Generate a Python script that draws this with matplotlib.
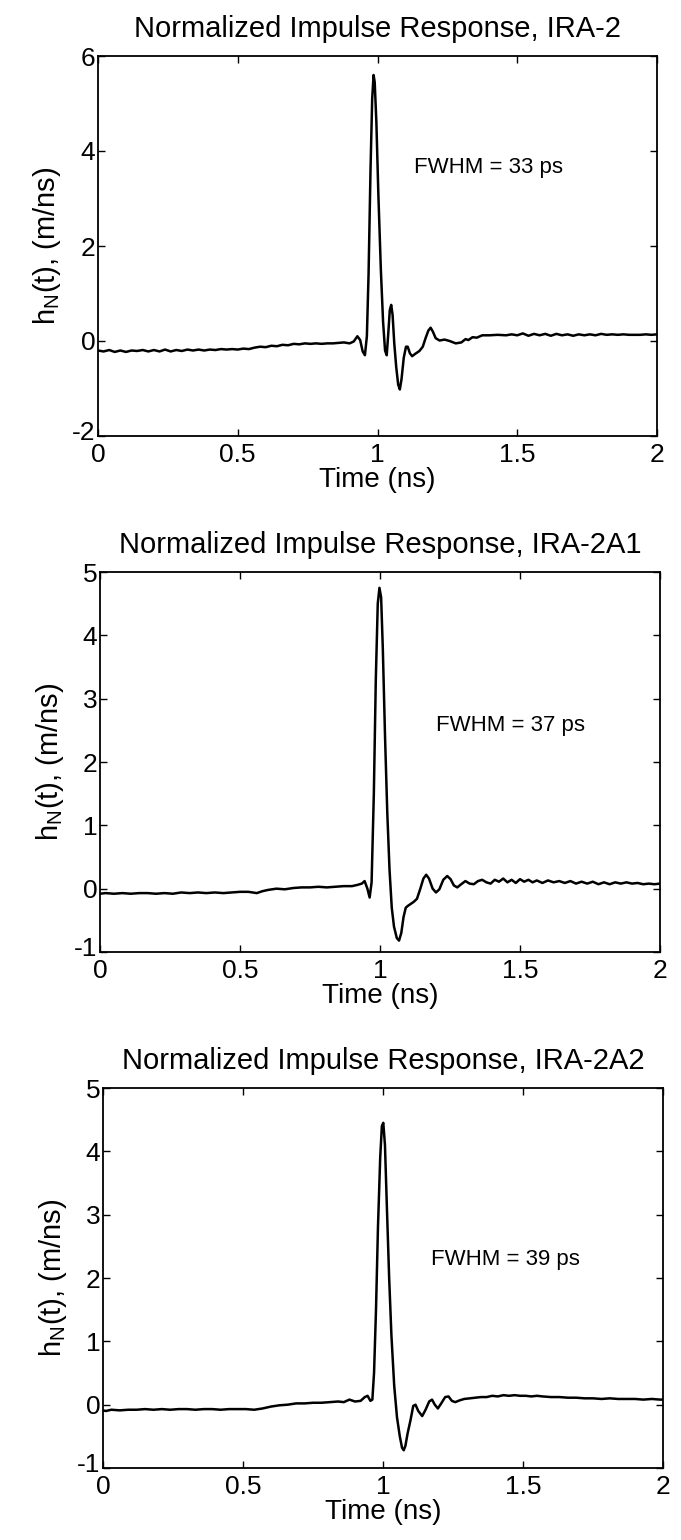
import matplotlib
matplotlib.use("Agg")
import matplotlib.pyplot as plt
import matplotlib.transforms as mtransforms

# ---------------------------------------------------------------------------
# Data (time in ns, h_N in m/ns)
# ---------------------------------------------------------------------------

titles = ["Normalized Impulse Response, IRA-2",
          "Normalized Impulse Response, IRA-2A1",
          "Normalized Impulse Response, IRA-2A2"]
fwhm_labels = ["FWHM = 33 ps", "FWHM = 37 ps", "FWHM = 39 ps"]
y_limits = [(-2, 6), (-1, 5), (-1, 5)]
y_ticks = [[-2, 0, 2, 4, 6], [-1, 0, 1, 2, 3, 4, 5], [-1, 0, 1, 2, 3, 4, 5]]
x_ticks = [0, 0.5, 1, 1.5, 2]
x_ticklabels = ["0", "0.5", "1", "1.5", "2"]

t_ira2 = [0.00, 0.02, 0.04, 0.06, 0.08, 0.10, 0.12, 0.14, 0.16, 0.18,
          0.20, 0.22, 0.24, 0.26, 0.28, 0.30, 0.32, 0.34, 0.36, 0.38,
          0.40, 0.42, 0.44, 0.46, 0.48, 0.50, 0.52, 0.54, 0.56, 0.58,
          0.60, 0.62, 0.64, 0.66, 0.68, 0.70, 0.72, 0.74, 0.76, 0.78,
          0.80, 0.82, 0.84, 0.86, 0.88, 0.90, 0.915, 0.928, 0.938, 0.947,
          0.955, 0.962, 0.968, 0.975, 0.981, 0.986, 0.990, 0.996, 1.003, 1.012,
          1.020, 1.027, 1.033, 1.039, 1.044, 1.049, 1.054, 1.060, 1.067, 1.074,
          1.080, 1.086, 1.094, 1.102, 1.108, 1.116, 1.124, 1.135, 1.150, 1.162,
          1.172, 1.182, 1.190, 1.198, 1.208, 1.222, 1.240, 1.258, 1.280, 1.300,
          1.315, 1.325, 1.340, 1.355, 1.375, 1.40, 1.43, 1.46, 1.48, 1.50,
          1.52, 1.54, 1.56, 1.58, 1.60, 1.62, 1.64, 1.66, 1.68, 1.70,
          1.72, 1.74, 1.76, 1.78, 1.80, 1.82, 1.84, 1.86, 1.88, 1.90,
          1.92, 1.94, 1.96, 1.98, 2.00]
h_ira2 = [-0.20, -0.22, -0.19, -0.23, -0.20, -0.23, -0.20, -0.21, -0.19, -0.22,
          -0.19, -0.22, -0.18, -0.22, -0.19, -0.21, -0.18, -0.20, -0.18, -0.20,
          -0.18, -0.19, -0.17, -0.18, -0.17, -0.18, -0.16, -0.17, -0.14, -0.12,
          -0.13, -0.10, -0.11, -0.08, -0.09, -0.06, -0.07, -0.05, -0.06, -0.05,
          -0.06, -0.05, -0.05, -0.04, -0.03, -0.05, -0.01, 0.10, 0.02, -0.22,
          -0.30, 0.10, 1.40, 3.60, 5.10, 5.60, 5.45, 4.60, 3.10, 1.50,
          0.40, -0.20, -0.30, 0.20, 0.65, 0.76, 0.55, -0.05, -0.55, -0.92,
          -1.02, -0.80, -0.35, -0.12, -0.12, -0.26, -0.32, -0.27, -0.21, -0.12,
          0.06, 0.22, 0.28, 0.20, 0.06, 0.01, 0.03, 0.00, -0.05, -0.03,
          0.04, 0.02, 0.08, 0.07, 0.12, 0.12, 0.13, 0.12, 0.14, 0.12,
          0.16, 0.11, 0.15, 0.12, 0.15, 0.11, 0.15, 0.12, 0.14, 0.11,
          0.14, 0.12, 0.14, 0.12, 0.15, 0.13, 0.14, 0.13, 0.14, 0.13,
          0.13, 0.13, 0.14, 0.13, 0.14]

t_ira2a1 = [0.00, 0.02, 0.05, 0.08, 0.11, 0.14, 0.17, 0.20, 0.23, 0.26,
            0.29, 0.32, 0.35, 0.38, 0.41, 0.44, 0.47, 0.50, 0.53, 0.56,
            0.58, 0.60, 0.63, 0.66, 0.69, 0.72, 0.75, 0.78, 0.81, 0.84,
            0.87, 0.90, 0.92, 0.935, 0.945, 0.955, 0.963, 0.970, 0.978, 0.985,
            0.992, 0.998, 1.004, 1.010, 1.018, 1.026, 1.034, 1.042, 1.050, 1.060,
            1.068, 1.076, 1.084, 1.092, 1.100, 1.110, 1.120, 1.132, 1.144, 1.155,
            1.165, 1.175, 1.188, 1.200, 1.212, 1.226, 1.240, 1.252, 1.264, 1.276,
            1.290, 1.305, 1.320, 1.335, 1.350, 1.365, 1.380, 1.395, 1.41, 1.425,
            1.44, 1.455, 1.47, 1.485, 1.50, 1.515, 1.53, 1.545, 1.56, 1.58,
            1.60, 1.62, 1.64, 1.66, 1.68, 1.70, 1.72, 1.74, 1.76, 1.78,
            1.80, 1.82, 1.84, 1.86, 1.88, 1.90, 1.92, 1.94, 1.96, 1.98,
            2.00]
h_ira2a1 = [-0.08, -0.07, -0.08, -0.07, -0.08, -0.07, -0.07, -0.08, -0.07, -0.08,
            -0.06, -0.07, -0.06, -0.07, -0.06, -0.07, -0.06, -0.05, -0.05, -0.07,
            -0.04, -0.02, 0.00, -0.01, 0.01, 0.02, 0.02, 0.03, 0.02, 0.03,
            0.04, 0.04, 0.06, 0.08, 0.12, 0.00, -0.14, 0.10, 1.50, 3.30,
            4.50, 4.75, 4.60, 3.80, 2.40, 1.20, 0.30, -0.30, -0.60, -0.78,
            -0.82, -0.70, -0.45, -0.30, -0.27, -0.24, -0.21, -0.16, 0.00, 0.16,
            0.22, 0.16, 0.00, -0.06, -0.01, 0.14, 0.20, 0.15, 0.05, 0.02,
            0.07, 0.12, 0.08, 0.07, 0.12, 0.14, 0.10, 0.08, 0.14, 0.11,
            0.16, 0.10, 0.14, 0.09, 0.15, 0.11, 0.14, 0.10, 0.13, 0.09,
            0.13, 0.10, 0.12, 0.09, 0.12, 0.08, 0.11, 0.08, 0.11, 0.07,
            0.10, 0.07, 0.10, 0.08, 0.10, 0.08, 0.09, 0.07, 0.08, 0.07,
            0.08]

t_ira2a2 = [0.00, 0.01, 0.03, 0.06, 0.09, 0.12, 0.15, 0.18, 0.21, 0.24,
            0.27, 0.30, 0.33, 0.36, 0.39, 0.42, 0.45, 0.48, 0.51, 0.54,
            0.57, 0.60, 0.63, 0.66, 0.69, 0.72, 0.75, 0.78, 0.81, 0.84,
            0.86, 0.88, 0.90, 0.92, 0.935, 0.945, 0.955, 0.962, 0.968, 0.975,
            0.982, 0.990, 0.996, 1.001, 1.007, 1.014, 1.022, 1.030, 1.040, 1.050,
            1.060, 1.068, 1.074, 1.080, 1.088, 1.098, 1.108, 1.116, 1.126, 1.140,
            1.152, 1.165, 1.175, 1.185, 1.196, 1.208, 1.222, 1.234, 1.246, 1.258,
            1.275, 1.29, 1.31, 1.33, 1.35, 1.37, 1.39, 1.41, 1.43, 1.45,
            1.47, 1.49, 1.51, 1.53, 1.55, 1.57, 1.60, 1.63, 1.66, 1.69,
            1.72, 1.75, 1.78, 1.81, 1.84, 1.87, 1.90, 1.93, 1.96, 1.99,
            2.00]
h_ira2a2 = [-0.09, -0.10, -0.08, -0.09, -0.08, -0.08, -0.07, -0.08, -0.07, -0.08,
            -0.07, -0.07, -0.08, -0.07, -0.07, -0.08, -0.07, -0.07, -0.07, -0.08,
            -0.06, -0.03, -0.01, 0.00, 0.02, 0.02, 0.03, 0.03, 0.04, 0.05,
            0.04, 0.08, 0.05, 0.06, 0.12, 0.14, 0.06, 0.08, 0.50, 1.50,
            2.80, 3.90, 4.40, 4.45, 4.10, 3.10, 2.00, 1.10, 0.30, -0.20,
            -0.50, -0.68, -0.72, -0.65, -0.45, -0.25, -0.02, 0.00, -0.10, -0.18,
            -0.08, 0.05, 0.08, 0.00, -0.06, 0.02, 0.12, 0.13, 0.06, 0.04,
            0.07, 0.09, 0.10, 0.11, 0.12, 0.12, 0.14, 0.13, 0.15, 0.14,
            0.15, 0.14, 0.14, 0.13, 0.14, 0.13, 0.12, 0.12, 0.11, 0.11,
            0.10, 0.10, 0.09, 0.10, 0.09, 0.09, 0.09, 0.08, 0.09, 0.08,
            0.08]

series = [(t_ira2, h_ira2), (t_ira2a1, h_ira2a1), (t_ira2a2, h_ira2a2)]
fwhm_pos = [(1.13, 3.65), (1.20, 2.57), (1.17, 2.30)]

# ---------------------------------------------------------------------------
# Layout (pixel boxes of the three axes: left, top, right, bottom)
# ---------------------------------------------------------------------------

W, H = 681, 1540
boxes = [(98, 56, 657, 436), (100, 572, 660, 952), (103, 1088, 663, 1468)]

plt.rcParams["font.family"] = ["Liberation Sans", "DejaVu Sans"]
plt.rcParams["mathtext.fontset"] = "custom"
plt.rcParams["mathtext.rm"] = "Liberation Sans"
plt.rcParams["mathtext.it"] = "Liberation Sans"
plt.rcParams["axes.unicode_minus"] = False   # MATLAB prints a plain hyphen

fig = plt.figure(figsize=(W / 100, H / 100), dpi=100, facecolor="white")

for i, (t, h) in enumerate(series):
    l, top, r, b = boxes[i]
    ax = fig.add_axes([l / W, 1 - b / H, (r - l) / W, (b - top) / H])
    ax.plot(t, h, color="black", linewidth=1.8)
    ax.set_xlim(0, 2)
    ax.set_ylim(*y_limits[i])
    ax.set_xticks(x_ticks)
    ax.set_xticklabels(x_ticklabels)
    ax.set_yticks(y_ticks[i])
    ax.tick_params(direction="in", length=5, width=1, top=True, right=True,
                   labelsize=19)
    ax.tick_params(axis="x", pad=5)
    ax.tick_params(axis="y", pad=2)
    for sp in ax.spines.values():
        sp.set_linewidth(1.3)
    ax.set_title(titles[i], fontsize=21, pad=14)
    ax.set_xlabel("Time (ns)", fontsize=20, labelpad=0)
    ax.set_ylabel(r"h$_\mathrm{N}$(t), (m/ns)", fontsize=21, labelpad=6)
    ax.text(fwhm_pos[i][0], fwhm_pos[i][1], fwhm_labels[i],
            fontsize=16, ha="left", va="center")

    # MATLAB lifts the lowest y label a little above the corner "0"
    fig.canvas.draw()
    lowest = ax.get_yticklabels()[0]
    lowest.set_transform(lowest.get_transform() +
                         mtransforms.ScaledTranslation(0, 4 / 72,
                                                       fig.dpi_scale_trans))

fig.savefig("out.png", dpi=100, facecolor="white")
